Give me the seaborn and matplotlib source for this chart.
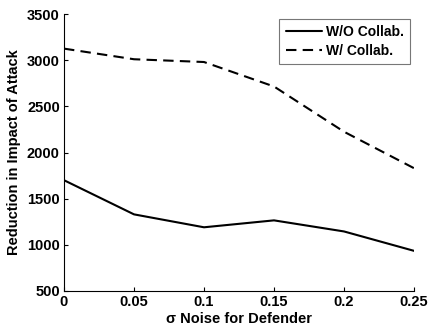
import matplotlib
matplotlib.use("Agg")
import matplotlib.pyplot as plt
import seaborn as sns
import pandas as pd

sigma = [0, 0.05, 0.1, 0.15, 0.2, 0.25]
wo_collab = [1700, 1330, 1190, 1265, 1145, 935]
w_collab = [3125, 3010, 2980, 2715, 2225, 1830]
series_names = ["W/O Collab.", "W/ Collab."]
xticks = [0, 0.05, 0.1, 0.15, 0.2, 0.25]
xtick_labels = ["0", "0.05", "0.1", "0.15", "0.2", "0.25"]
yticks = [500, 1000, 1500, 2000, 2500, 3000, 3500]

df = pd.DataFrame({
    "sigma": sigma * 2,
    "value": wo_collab + w_collab,
    "series": [series_names[0]] * len(sigma) + [series_names[1]] * len(sigma),
})

sns.set_theme(style="white")
plt.rcParams["font.family"] = ["Liberation Sans", "DejaVu Sans"]
plt.rcParams["font.weight"] = "bold"
plt.rcParams["text.color"] = "black"
plt.rcParams["axes.labelcolor"] = "black"
plt.rcParams["xtick.color"] = "black"
plt.rcParams["ytick.color"] = "black"

fig = plt.figure(figsize=(4.28, 3.28), dpi=100)
ax = fig.add_axes([64 / 428, 1 - 291 / 328, (414 - 64) / 428, (291 - 14) / 328])

sns.lineplot(data=df, x="sigma", y="value", hue="series", style="series",
             palette=["black", "black"], dashes=[(None, None), (5, 3)],
             linewidth=1.5, ax=ax, legend=True)
ax.lines[0].set_linestyle("-")
ax.lines[1].set_dashes((5, 3))

ax.set_xlim(0, 0.25)
ax.set_ylim(500, 3500)
ax.set_xticks(xticks)
ax.set_xticklabels(xtick_labels, fontsize=10.5, fontweight="bold", color="black")
ax.set_yticks(yticks)
ax.set_yticklabels([str(v) for v in yticks], fontsize=10.5, fontweight="bold", color="black")
ax.tick_params(direction="in", length=3, width=0.8, colors="black", pad=3,
               bottom=True, left=True)
for s in ["top", "right"]:
    ax.spines[s].set_visible(False)
for s in ["left", "bottom"]:
    ax.spines[s].set_color("black")
    ax.spines[s].set_linewidth(0.8)

ax.set_xlabel("σ Noise for Defender", fontsize=10.5, fontweight="bold", labelpad=2, color="black")
ax.set_ylabel("Reduction in Impact of Attack", fontsize=10.5, fontweight="bold", labelpad=4, color="black")

handles, labels = ax.get_legend_handles_labels()
leg = ax.legend(handles, labels, loc="upper right", bbox_to_anchor=(1.009, 1.007),
                frameon=True, fancybox=False, edgecolor="#555555",
                prop={"weight": "bold", "size": 10}, handlelength=2.6,
                handletextpad=0.3, borderpad=0.45, labelspacing=0.35)
leg.get_frame().set_linewidth(0.8)
for t in leg.get_texts():
    t.set_color("black")

fig.savefig("out.png", dpi=100)
